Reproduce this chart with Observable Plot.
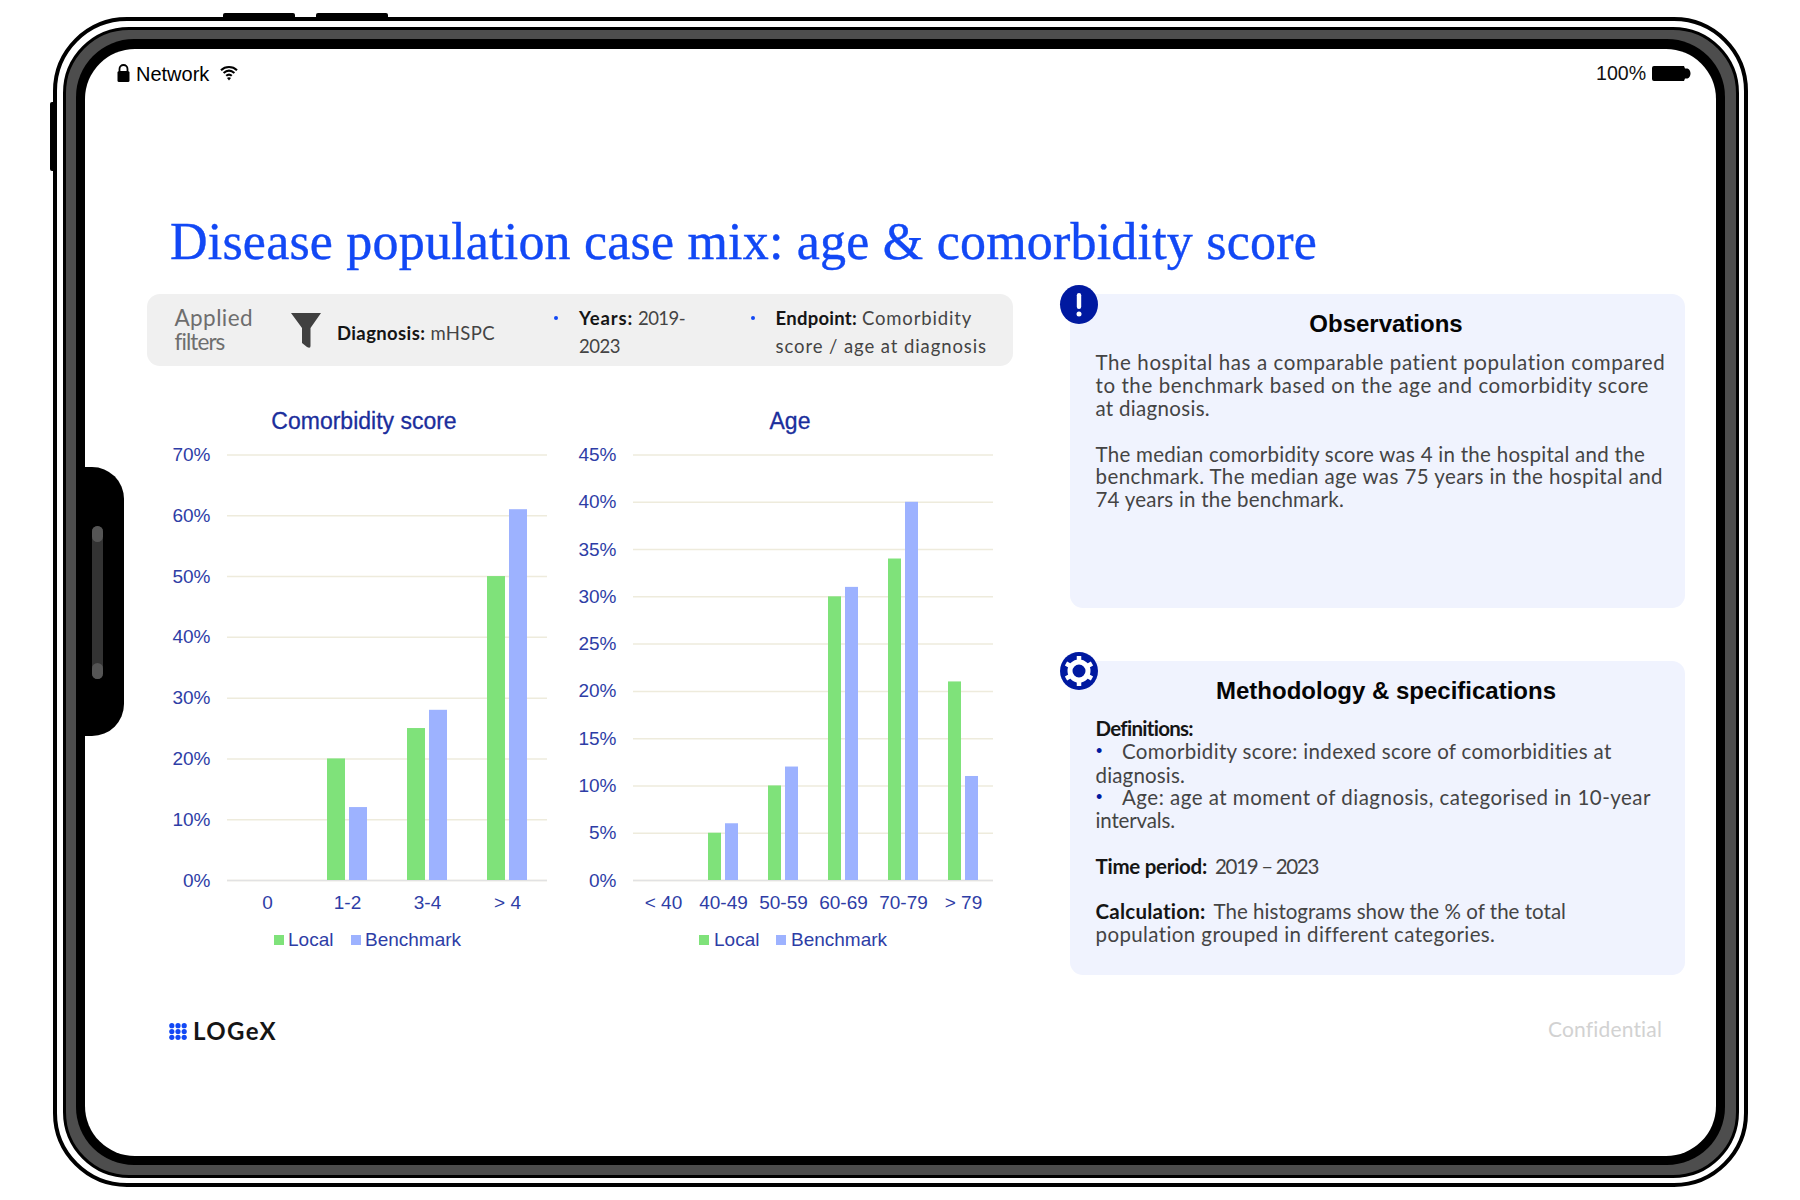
<!DOCTYPE html>
<html><head><meta charset="utf-8">
<script src="https://cdn.jsdelivr.net/npm/d3@7"></script>
<script src="https://cdn.jsdelivr.net/npm/@observablehq/plot@0.6"></script>
<style>
html,body{margin:0;padding:0;background:#fff;}
#page{position:relative;width:1800px;height:1200px;overflow:hidden;font-family:"Liberation Sans",Arial,sans-serif;}
.a{position:absolute;box-sizing:border-box;}
.t{position:absolute;white-space:nowrap;transform:translateY(-50%);line-height:1;}
.g{font-family:Lato,sans-serif;color:#444;font-size:20.5px;}
.g b{color:#151515;font-weight:700;}
svg.i{position:absolute;overflow:visible;}
</style></head><body><div id="page">
<div class="a" style="left:50px;top:102px;width:8px;height:69px;background:#000;border-radius:2px"></div>
<div class="a" style="left:223px;top:13px;width:72px;height:8px;background:#000;border-radius:2px"></div>
<div class="a" style="left:316px;top:13px;width:72px;height:8px;background:#000;border-radius:2px"></div>
<div class="a" style="left:53px;top:17px;width:1695px;height:1170px;border:4px solid #000;border-radius:74px;background:#fff"></div>
<div class="a" style="left:63px;top:27px;width:1676px;height:1151px;border:3px solid #000;border-radius:66px;background:#4d4d4d"></div>
<div class="a" style="left:76px;top:39px;width:1649px;height:1126px;border-radius:58px;background:#000"></div>
<div class="a" style="left:85px;top:49px;width:1631px;height:1107px;border-radius:50px;background:#fff"></div>
<div class="a" style="left:80px;top:467px;width:44px;height:269px;border-radius:0 32px 32px 0;background:#000"></div>
<div class="a" style="left:92px;top:526px;width:11px;height:153px;border-radius:6px;background:#333"></div>
<div class="a" style="left:92px;top:526px;width:11px;height:16px;border-radius:6px;background:#555"></div>
<div class="a" style="left:92px;top:663px;width:11px;height:16px;border-radius:6px;background:#555"></div>

<svg class="i" style="left:117px;top:64px" width="13" height="18" viewBox="0 0 13 18"><path d="M2.500 7V5a4 4 0 0 1 8 0v2" fill="none" stroke="#000" stroke-width="1.800"/><rect x="0.500" y="7" width="12" height="11" rx="1.500"/></svg>
<div class="t" style="left:136px;top:74px;font-size:20px;color:#000">Network</div>
<svg class="i" style="left:220px;top:65px" width="18" height="16" viewBox="0 0 18 16" fill="none" stroke="#000" stroke-width="2.100"><path d="M1 5.200C5.500 1 12.500 1 17 5.200"/><path d="M3.600 8C7 5 11 5 14.400 8"/><path d="M6.200 10.800C8 9.200 10 9.200 11.800 10.800"/><path d="M9 15.500l-2-2.600c1.200-.9 2.800-.9 4 0z" fill="#000" stroke="none"/></svg>
<div class="t" style="left:1596px;top:74px;font-size:19.600px;color:#111">100%</div>
<svg class="i" style="left:1652px;top:66px" width="39" height="15" viewBox="0 0 39 15"><path d="M2 0H32L33 2.500H35.500C39.500 4 39.500 11 35.500 12.500H33L32 15H2Q0 15 0 13V2Q0 0 2 0Z"/></svg>

<div class="a" style="left:147px;top:294px;width:866px;height:72px;border-radius:13px;background:#f0f0f0"></div>
<svg class="i" style="left:291px;top:313px" width="30" height="36" viewBox="0 0 30 36"><path d="M0 0H30L19.500 15V33Q19.500 36 16 34L11 30V15Z" fill="#404040"/></svg>
<div class="a" style="left:553.500px;top:316px;width:4px;height:4px;border-radius:50%;background:#1248f5"></div>
<div class="a" style="left:750.500px;top:316px;width:4px;height:4px;border-radius:50%;background:#1248f5"></div>

<div class="a" style="left:1070px;top:294px;width:615px;height:314px;border-radius:13px;background:#f0f3fe"></div>
<div class="a" style="left:1070px;top:661px;width:615px;height:314px;border-radius:13px;background:#f0f3fe"></div>
<svg class="i" style="left:1060px;top:285px" width="38" height="39" viewBox="0 0 38 39"><ellipse cx="19" cy="19.500" rx="19" ry="19.500" fill="#0019a0"/><rect x="16.800" y="8" width="4.400" height="16" rx="2.200" fill="#fff"/><circle cx="19" cy="29" r="2.500" fill="#fff"/></svg>
<svg class="i" style="left:1060px;top:652px" width="38" height="38" viewBox="0 0 38 38"><circle cx="19" cy="19" r="19" fill="#0019a0"/><circle cx="19" cy="19" r="9" fill="none" stroke="#fff" stroke-width="5"/><g stroke="#fff" stroke-width="4.500"><path d="M19 4v6"/><path d="M19 28v6"/><path d="M6 11.500l5.200 3"/><path d="M26.800 23.500l5.200 3"/><path d="M6 26.500l5.200-3"/><path d="M26.800 14.500l5.200-3"/></g></svg>
<svg class="i" style="left:169px;top:1023px" width="18" height="17" viewBox="0 0 18 17" fill="#1248f5"><circle cx="2.800" cy="2.700" r="2.600"/><circle cx="9" cy="2.700" r="2.600"/><circle cx="15.200" cy="2.700" r="2.600"/><circle cx="2.800" cy="8.500" r="2.600"/><circle cx="9" cy="8.500" r="2.600"/><circle cx="15.200" cy="8.500" r="2.600"/><circle cx="2.800" cy="14.300" r="2.600"/><circle cx="9" cy="14.300" r="2.600"/><circle cx="15.200" cy="14.300" r="2.600"/></svg>
</div>
<script>
// ---- chart values (percent of population) ----
const seriesNames = ["Local", "Benchmark"];
const comorbidityCategories = ["0", "1-2", "3-4", "> 4"];
const comorbidityLocal = [0, 20, 25, 50];
const comorbidityBenchmark = [0, 12, 28, 61];
const comorbidityTicks = [0, 10, 20, 30, 40, 50, 60, 70];
const ageCategories = ["< 40", "40-49", "50-59", "60-69", "70-79", "> 79"];
const ageLocal = [0, 5, 10, 30, 34, 21];
const ageBenchmark = [0, 6, 12, 31, 40, 11];
const ageTicks = [0, 5, 10, 15, 20, 25, 30, 35, 40, 45];
const seriesColors = ["#7fe27a", "#9db2ff"];

const page = document.getElementById("page");
const tick = "#2e3da6", head = "#1b2e9c";

function addText(x, y, html, o = {}) {
  const d = document.createElement("div");
  d.className = "t" + (o.g ? " g" : "");
  d.style.left = x + "px"; d.style.top = y + "px";
  d.innerHTML = html;
  for (const k of ["color", "fontSize", "fontWeight", "fontFamily", "letterSpacing", "webkitTextStroke"]) if (o[k]) d.style[k] = o[k];
  if (o.center) d.style.transform = "translate(-50%,-50%)";
  page.appendChild(d);
  if (o.right) {
    const w = d.getBoundingClientRect().width;
    const n = d.textContent.length;
    d.style.letterSpacing = ((o.right - x - w) / n) + "px";
  }
  return d;
}

// page title
addText(170, 242, "Disease population case mix: age &amp; comorbidity score",
  {fontFamily: "'Liberation Serif',serif", fontSize: "52px", color: "#1248f5", webkitTextStroke: "0.4px #1248f5", right: 1317});

function histogram({cats, local, bench, ticks, left, top, width, height, mL, mR, mT, mB, pInner, pOuter}) {
  const rows = cats.flatMap((c, i) => [
    {cat: c, series: seriesNames[0], value: local[i]},
    {cat: c, series: seriesNames[1], value: bench[i]}
  ]);
  const chart = Plot.plot({
    width, height, marginLeft: mL, marginRight: mR, marginTop: mT, marginBottom: mB,
    style: {background: "transparent", fontFamily: "'Liberation Sans',Arial,sans-serif", fontSize: "19px", color: tick, overflow: "visible"},
    fx: {domain: cats, padding: 0, label: null},
    x: {domain: seriesNames, axis: null, paddingInner: pInner, paddingOuter: pOuter},
    y: {domain: [ticks[0], ticks[ticks.length - 1]], label: null},
    color: {domain: seriesNames, range: seriesColors},
    marks: [
      Plot.gridY(ticks, {stroke: "#eeebdc", strokeOpacity: 1, strokeWidth: 1.5}),
      Plot.ruleY([0], {stroke: "#e2e2e2", strokeWidth: 1.5}),
      Plot.barY(rows, {fx: "cat", x: "series", y: "value", fill: "series"}),
      Plot.axisY({ticks, tickSize: 0, tickPadding: 17, label: null, tickFormat: d => d + "%", fill: tick, fontSize: 19}),
      Plot.axisFx({anchor: "bottom", tickSize: 0, tickPadding: 15, label: null, fill: tick, fontSize: 19})
    ]
  });
  const w = document.createElement("div");
  w.className = "a";
  w.style.cssText += `left:${left}px;top:${top}px;width:${width}px;height:${height}px`;
  w.appendChild(chart);
  page.appendChild(w);
}

histogram({cats: comorbidityCategories, local: comorbidityLocal, bench: comorbidityBenchmark, ticks: comorbidityTicks,
  left: 140, top: 440, width: 420, height: 480, mL: 86, mR: 12, mT: 14.5, mB: 40, pInner: 0.2, pOuter: 0.85});
histogram({cats: ageCategories, local: ageLocal, bench: ageBenchmark, ticks: ageTicks,
  left: 560, top: 440, width: 440, height: 480, mL: 70, mR: 5, mT: 14.5, mB: 40, pInner: 0.23, pOuter: 0.84});

// chart titles
addText(364, 421, "Comorbidity score", {center: true, color: head, fontSize: "23px", webkitTextStroke: "0.3px " + head});
addText(790, 421, "Age", {center: true, color: head, fontSize: "23px", webkitTextStroke: "0.3px " + head});

// legends
function legend(items) {
  for (const [name, sx, tx, color] of items) {
    const s = document.createElement("div");
    s.className = "a";
    s.style.cssText += `left:${sx}px;top:935px;width:10px;height:10px;background:${color}`;
    page.appendChild(s);
    addText(tx, 939, name, {color: tick, fontSize: "19px"});
  }
}
legend([[seriesNames[0], 274, 288, seriesColors[0]], [seriesNames[1], 351, 365, seriesColors[1]]]);
legend([[seriesNames[0], 699, 714, seriesColors[0]], [seriesNames[1], 776, 791, seriesColors[1]]]);

// filter bar
addText(174.5, 318, "Applied", {g: true, color: "#6e6e6e", fontSize: "22.500px", right: 253});
addText(174.5, 342, "filters", {g: true, color: "#6e6e6e", fontSize: "22.500px", right: 224});
addText(337, 333, "<b>Diagnosis:</b> mHSPC", {g: true, fontSize: "18.500px", right: 495});
addText(579, 318, "<b>Years:</b>", {g: true, fontSize: "18.500px", right: 633});
addText(638, 318, "2019-", {g: true, fontSize: "18.500px", right: 685});
addText(579, 346, "2023", {g: true, fontSize: "18.500px", right: 620});
addText(775.5, 318, "<b>Endpoint:</b>", {g: true, fontSize: "18.500px", right: 857});
addText(862, 318, "Comorbidity", {g: true, fontSize: "18.500px", right: 972});
addText(775.5, 346, "score / age at diagnosis", {g: true, fontSize: "18.500px", right: 987});

// observations
addText(1386, 324, "Observations", {center: true, color: "#050505", fontWeight: "700", fontSize: "24px"});
const obsLines = [
  ["The hospital has a comparable patient population compared", 361.5, 1666],
  ["to the benchmark based on the age and comorbidity score", 385, 1649],
  ["at diagnosis.", 408, 1210],
  ["The median comorbidity score was 4 in the hospital and the", 453.5, 1645],
  ["benchmark. The median age was 75 years in the hospital and", 476, 1663],
  ["74 years in the benchmark.", 499, 1344]
];
for (const [s, y, r] of obsLines) addText(1095.5, y, s, {g: true, right: r});

// methodology
addText(1386, 691, "Methodology &amp; specifications", {center: true, color: "#050505", fontWeight: "700", fontSize: "24px"});
const methLines = [
  ["<b>Definitions:</b>", 1095.5, 727.5, 1193],
  ["Comorbidity score: indexed score of comorbidities at", 1122, 751, 1612],
  ["diagnosis.", 1095.5, 774.5, 1185],
  ["Age: age at moment of diagnosis, categorised in 10-year", 1122, 796.5, 1651],
  ["intervals.", 1095.5, 820, 1175],
  ["<b>Time period:</b>", 1095.5, 866, 1207],
  ["2019 – 2023", 1215, 866, 1318],
  ["<b>Calculation:</b>", 1095.5, 911, 1206],
  ["The histograms show the % of the total", 1213.5, 911, 1566],
  ["population grouped in different categories.", 1095.5, 934, 1495]
];
for (const [s, x, y, r] of methLines) addText(x, y, s, {g: true, right: r});
addText(1096, 751, "•", {color: "#0019a0", fontSize: "18px"});
addText(1096, 796.5, "•", {color: "#0019a0", fontSize: "18px"});

// footer
addText(193, 1031, "LOGeX", {fontFamily: "Lato,sans-serif", fontWeight: "700", color: "#151515", fontSize: "24px", right: 277});
addText(1548, 1028, "Confidential", {g: true, color: "#d2d2d2", fontSize: "21px", right: 1662});
</script>
</body></html>
